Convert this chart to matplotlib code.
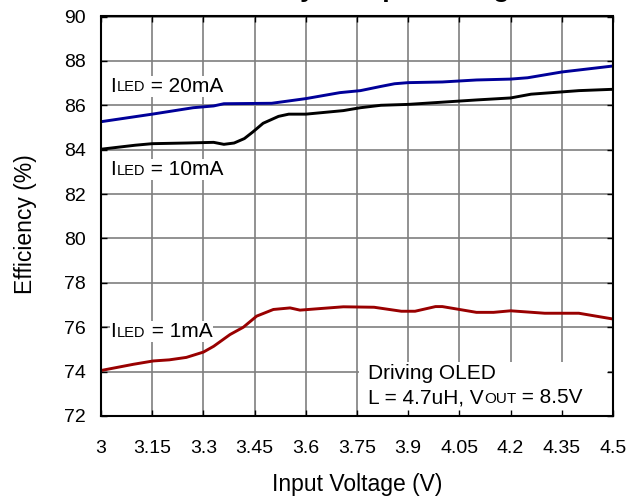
import numpy as np
import matplotlib
matplotlib.use("Agg")
import matplotlib.pyplot as plt
from matplotlib.patches import Rectangle

plt.rcParams['font.family'] = ['Liberation Sans', 'DejaVu Sans']

# efficiency curves
v_20ma = [3.0, 3.15, 3.27, 3.33, 3.36, 3.5, 3.6, 3.7, 3.76, 3.82, 3.86, 3.9, 4.0, 4.1, 4.2, 4.25, 4.35, 4.45, 4.5]
eff_20ma = [85.26, 85.6, 85.89, 85.97, 86.07, 86.09, 86.3, 86.57, 86.66, 86.85, 86.97, 87.02, 87.05, 87.14, 87.18, 87.24, 87.5, 87.68, 87.77]

v_10ma = [3.0, 3.1, 3.15, 3.25, 3.33, 3.36, 3.39, 3.42, 3.445, 3.475, 3.52, 3.55, 3.6, 3.71, 3.76, 3.82, 3.9, 4.1, 4.2, 4.26, 4.4, 4.5]
eff_10ma = [84.02, 84.2, 84.27, 84.3, 84.33, 84.24, 84.3, 84.5, 84.8, 85.19, 85.5, 85.6, 85.6, 85.76, 85.89, 86.0, 86.04, 86.24, 86.33, 86.5, 86.66, 86.72]

v_1ma = [3.0, 3.095, 3.153, 3.2, 3.25, 3.3, 3.33, 3.378, 3.417, 3.456, 3.505, 3.554, 3.583, 3.65, 3.71, 3.8, 3.88, 3.92, 3.98, 4.0, 4.1, 4.15, 4.2, 4.3, 4.4, 4.5]
eff_1ma = [74.05, 74.33, 74.48, 74.53, 74.64, 74.88, 75.14, 75.67, 76.0, 76.5, 76.8, 76.87, 76.77, 76.85, 76.92, 76.9, 76.72, 76.72, 76.93, 76.93, 76.67, 76.67, 76.74, 76.63, 76.63, 76.37]

x_ticks = [3.0, 3.15, 3.3, 3.45, 3.6, 3.75, 3.9, 4.05, 4.2, 4.35, 4.5]
x_labels = ['3', '3.15', '3.3', '3.45', '3.6', '3.75', '3.9', '4.05', '4.2', '4.35', '4.5']
y_ticks = [72, 74, 76, 78, 80, 82, 84, 86, 88, 90]

fig = plt.figure(figsize=(6.28, 5), dpi=100)
ax = fig.add_axes([101/628, 84/500, 512/628, 399.5/500])

# grid drawn by hand so the note box can sit on top of it
for xv in x_ticks:
    ax.axvline(xv, color='#7f7f7f', lw=1.2, zorder=1)
for yv in y_ticks:
    ax.axhline(yv, color='#7f7f7f', lw=1.2, zorder=1)

ax.plot(v_20ma, eff_20ma, color='#000099', lw=2.1, zorder=2)
ax.plot(v_10ma, eff_10ma, color='black', lw=2.1, zorder=2)
ax.plot(v_1ma, eff_1ma, color='#990000', lw=2.1, zorder=2)

ax.set_xlim(3, 4.5)
ax.set_ylim(72, 90)
ax.set_xticks(x_ticks)
ax.set_xticklabels(x_labels)
ax.set_yticks(y_ticks)
ax.tick_params(direction='in', length=4, width=1, top=True, right=True, labelsize=14)
ax.tick_params(axis='x', pad=17)
ax.tick_params(axis='y', pad=11)
for s in ax.spines.values():
    s.set_linewidth(1.5)

ax.set_xlabel('Input Voltage (V)', fontsize=16.5, labelpad=12)
ax.set_ylabel('Efficiency (%)', fontsize=16.5)
ax.yaxis.set_label_coords(-0.125, 0.48)

wbox = dict(fc='white', ec='none', pad=0.6)


def sub_label(x, y, main, sub, rest, size=15, subsize=10.5):
    t1 = ax.text(x, y, main, fontsize=size, va='baseline', bbox=wbox, zorder=3)
    t2 = ax.annotate(sub, xy=(1, 0), xycoords=t1, xytext=(0.6, 0.2 * (size - subsize)),
                     textcoords='offset points', fontsize=subsize, va='bottom', bbox=wbox, zorder=3)
    ax.annotate(rest, xy=(1, 0), xycoords=(t2, t1), fontsize=size, va='bottom', bbox=wbox, zorder=3)


sub_label(3.026, 86.61, 'I', 'LED', ' = 20mA')
sub_label(3.026, 82.86, 'I', 'LED', ' = 10mA')
sub_label(3.028, 75.55, 'I', 'LED', ' = 1mA')

# note box in the lower right corner
ax.add_patch(Rectangle((3.756, 72), 0.729, 2.43, fc='white', ec='none', zorder=1.5))
ax.text(3.782, 73.66, 'Driving OLED', fontsize=15, va='baseline', zorder=3)
t = ax.text(3.782, 72.58, 'L = 4.7uH, V', fontsize=15, va='baseline', zorder=3)
t2 = ax.annotate('OUT', xy=(1, 0), xycoords=t, xytext=(0.3, 0.9),
                 textcoords='offset points', fontsize=11, va='bottom', zorder=3)
ax.annotate(' = 8.5V', xy=(1, 0), xycoords=(t2, t), fontsize=15, va='bottom', zorder=3)

# title is mostly cut off by the top edge of the image, only descenders show
fig.text(357/628, 1.0 + 3/500, 'Efficiency vs Input Voltage', ha='center', va='baseline',
         fontsize=19, fontweight='bold')

fig.savefig('out.png', dpi=100)
